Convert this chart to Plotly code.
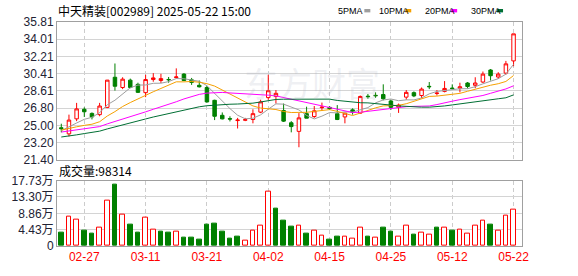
import plotly.graph_objects as go
import pandas as pd

# ---------------- data ----------------
stock_name = "中天精装"
stock_code = "002989"
quote_time = "15:00"

dates = ["2025-02-24", "2025-02-25", "2025-02-26", "2025-02-27", "2025-02-28",
         "2025-03-03", "2025-03-04", "2025-03-05", "2025-03-06", "2025-03-07",
         "2025-03-10", "2025-03-11", "2025-03-12", "2025-03-13", "2025-03-14",
         "2025-03-17", "2025-03-18", "2025-03-19", "2025-03-20", "2025-03-21",
         "2025-03-24", "2025-03-25", "2025-03-26", "2025-03-27", "2025-03-28",
         "2025-03-31", "2025-04-01", "2025-04-02", "2025-04-03", "2025-04-07",
         "2025-04-08", "2025-04-09", "2025-04-10", "2025-04-11", "2025-04-14",
         "2025-04-15", "2025-04-16", "2025-04-17", "2025-04-18", "2025-04-21",
         "2025-04-22", "2025-04-23", "2025-04-24", "2025-04-25", "2025-04-28",
         "2025-04-29", "2025-04-30", "2025-05-06", "2025-05-07", "2025-05-08",
         "2025-05-09", "2025-05-12", "2025-05-13", "2025-05-14", "2025-05-15",
         "2025-05-16", "2025-05-19", "2025-05-20", "2025-05-21", "2025-05-22"]

opens = [24.75, 24.11, 25.68, 26.68, 26.25, 26.12, 26.88, 30.03, 28.96, 29.73,
         29.29, 28.42, 29.79, 29.69, 29.80, 30.00, 30.36, 29.76, 29.19, 28.96,
         27.62, 26.05, 25.70, 25.50, 25.53, 25.61, 26.38, 27.90, 28.02, 26.55,
         25.27, 24.37, 26.22, 25.92, 26.85, 26.88, 26.22, 25.88, 26.62, 26.28,
         28.05, 28.14, 28.22, 27.55, 26.88, 27.95, 28.42, 28.12, 29.08, 28.33,
         28.55, 28.90, 28.89, 29.43, 29.19, 29.53, 30.79, 30.06, 30.46, 31.74]
highs = [25.17, 26.12, 27.35, 26.88, 26.35, 27.35, 29.75, 31.47, 30.03, 29.89,
         29.46, 30.29, 30.46, 30.39, 30.06, 30.96, 30.46, 29.96, 29.69, 29.13,
         27.68, 26.35, 25.95, 25.78, 25.78, 26.68, 27.68, 30.29, 28.69, 27.28,
         25.44, 26.28, 26.95, 27.02, 27.38, 27.00, 27.12, 26.30, 26.78, 28.12,
         28.28, 28.45, 29.29, 27.68, 27.28, 28.69, 28.55, 28.96, 29.53, 28.69,
         29.63, 29.29, 29.46, 29.53, 30.03, 30.63, 30.89, 30.56, 31.74, 34.57]
lows = [24.27, 23.84, 25.44, 25.88, 25.62, 25.95, 26.80, 28.63, 28.79, 28.89,
        28.38, 27.95, 29.56, 29.43, 29.46, 29.89, 29.63, 29.23, 28.96, 27.38,
        25.55, 25.62, 25.41, 24.67, 25.44, 25.21, 26.28, 27.68, 27.28, 25.35,
        24.27, 22.71, 25.75, 25.78, 26.55, 26.60, 25.55, 25.21, 26.12, 26.22,
        27.78, 27.88, 27.62, 26.62, 26.30, 27.68, 27.95, 27.85, 28.79, 28.12,
        28.45, 28.76, 28.45, 28.86, 28.89, 29.43, 29.69, 29.86, 30.29, 31.19]
closes = [24.65, 25.55, 26.72, 26.42, 25.88, 27.02, 29.73, 29.09, 29.83, 28.96,
          28.45, 29.79, 29.96, 29.89, 29.77, 30.06, 29.69, 29.49, 29.03, 27.45,
          25.95, 25.68, 25.66, 25.55, 25.60, 26.22, 27.45, 28.62, 28.35, 25.44,
          24.87, 25.78, 25.75, 26.52, 26.90, 26.75, 25.61, 26.28, 26.38, 28.02,
          28.00, 28.10, 27.78, 26.88, 27.12, 28.45, 28.08, 28.79, 29.04, 28.37,
          28.86, 28.84, 29.03, 29.06, 29.43, 30.36, 30.19, 30.36, 31.43, 34.57]
volumes = [36500, 80000, 72000, 42000, 34000, 51000, 122000, 166000, 85000, 57000,
           36500, 77000, 43500, 39000, 36500, 38000, 23500, 23500, 18000, 57000,
           60000, 39000, 21000, 26000, 15000, 41000, 56500, 148000, 102000, 68000,
           52000, 55000, 34000, 41000, 29000, 18000, 26000, 25000, 20000, 51000,
           26000, 22500, 49500, 39000, 25000, 56500, 31000, 36000, 30500, 49500,
           51000, 42000, 43500, 33000, 54000, 69500, 57500, 41000, 82500, 98314]
# estimated closes of the 29 sessions before the window (only feed the moving averages)
prev_closes = [22.9, 22.6, 22.4, 22.5, 22.8, 22.7, 22.5, 22.9, 23.0, 23.1,
               23.4, 23.8, 24.2, 24.5, 24.3, 24.0, 24.3, 24.6, 24.1, 23.8,
               24.2, 24.6, 24.9, 24.7, 24.4, 23.75, 24.5, 24.5, 24.8]

ma_periods = [5, 10, 20, 30]
ma_labels = ["5PMA", "10PMA", "20PMA", "30PMA"]
ma_colors = ["#9e9e9e", "#f5a000", "#ff00ff", "#006f34"]

price_min, price_max = 21.40, 35.81
price_tick_labels = ["21.40", "23.20", "25.00", "26.80", "28.61", "30.41", "32.21", "34.01", "35.81"]
vol_axis_max = 177300
vol_tick_labels = ["0", "4.43万", "8.86万", "13.30万", "17.73万"]
date_tick_labels = ["02-27", "03-11", "03-21", "04-02", "04-15", "04-25", "05-12", "05-22"]

# ---------------- styling / geometry ----------------
UP = "#ff0000"
DOWN = "#008000"
FRAME = "#a0a0a0"
GRID = "#d4d4d4"
W, H = 578, 276
ML, MR, MT, MB = 56, 56, 22, 21
PW, PH = W - ML - MR, H - MT - MB


def pxx(p):
    return (p - ML) / PW


def pxy(p):
    return (H - MB - p) / PH


n = len(dates)
idx = list(range(n))
all_close = pd.Series(prev_closes + closes)
ma_values = [all_close.rolling(p).mean().iloc[len(prev_closes):].tolist() for p in ma_periods]

prev_for_vol = [prev_closes[-1]] + closes[:-1]
vol_up = [c >= pc for c, pc in zip(closes, prev_for_vol)]
vol_fill = ["#ffffff" if u else DOWN for u in vol_up]
vol_edge = [UP if u else DOWN for u in vol_up]

tick_idx = [i for i, d in enumerate(dates) if d[5:] in date_tick_labels]
tick_txt = [dates[i][5:] for i in tick_idx]

n_pt = len(price_tick_labels)
price_tickvals = [price_min + k * (price_max - price_min) / (n_pt - 1) for k in range(n_pt)]
n_vt = len(vol_tick_labels)
vol_tickvals = [k * vol_axis_max / (n_vt - 1) for k in range(n_vt)]

fig = go.Figure()

fig.add_trace(go.Candlestick(
    x=idx, open=opens, high=highs, low=lows, close=closes,
    increasing=dict(line=dict(color=UP, width=1), fillcolor="#ffffff"),
    decreasing=dict(line=dict(color=DOWN, width=1), fillcolor=DOWN),
    whiskerwidth=0, hoverinfo="skip", xaxis="x", yaxis="y"))

for vals, col in zip(ma_values, ma_colors):
    fig.add_trace(go.Scatter(x=idx, y=vals, mode="lines",
                             line=dict(color=col, width=1), hoverinfo="skip",
                             xaxis="x", yaxis="y"))

fig.add_trace(go.Bar(x=idx, y=volumes, width=0.6,
                     marker=dict(color=vol_fill, line=dict(color=vol_edge, width=1)),
                     hoverinfo="skip", xaxis="x2", yaxis="y2"))

xr = [-0.56, n - 1 + 1.1]
axis_common = dict(showline=True, mirror=True, linecolor=FRAME, linewidth=1,
                   zeroline=False, ticks="", fixedrange=True)

fig.update_layout(
    width=W, height=H, margin=dict(l=ML, r=MR, t=MT, b=MB),
    paper_bgcolor="#ffffff", plot_bgcolor="#ffffff", showlegend=False,
    boxgap=0.35, bargap=0,
    xaxis=dict(domain=[0, 1], range=xr, anchor="y", tickvals=tick_idx, ticktext=tick_txt,
               showticklabels=False, showgrid=True, gridcolor="#cccccc", griddash="4px,3px",
               rangeslider=dict(visible=False), **axis_common),
    yaxis=dict(domain=[pxy(165.3), 1], range=[price_min, price_max], tickvals=price_tickvals,
               ticktext=price_tick_labels, showgrid=True, gridcolor=GRID,
               tickfont=dict(family="Arial, Liberation Sans", size=12, color="#222233"),
               **axis_common),
    xaxis2=dict(domain=[0, 1], range=xr, anchor="y2", tickvals=tick_idx, ticktext=tick_txt,
                showgrid=True, gridcolor="#cccccc", griddash="4px,3px",
                tickfont=dict(family="Arial, Liberation Sans", size=12, color="#ff0000"),
                **axis_common),
    yaxis2=dict(domain=[0, pxy(187)], range=[0, vol_axis_max], tickvals=vol_tickvals,
                ticktext=vol_tick_labels, showgrid=True, gridcolor=GRID,
                tickfont=dict(family="Arial, Liberation Sans, Noto Sans CJK SC", size=12, color="#222233"),
                **axis_common),
)

annotations = [
    dict(text=f"{stock_name}[{stock_code}] {dates[-1]} {quote_time}", x=pxx(55), y=pxy(10.5),
         xref="paper", yref="paper", xanchor="left", yanchor="middle", showarrow=False,
         font=dict(family="SimSun, Noto Sans CJK SC", size=12, color="#000000")),
    dict(text=f"成交量:{volumes[-1]}", x=pxx(56), y=pxy(176.5),
         xref="paper", yref="paper", xanchor="left", yanchor="middle", showarrow=False,
         font=dict(family="SimSun, Noto Sans CJK SC", size=12, color="#000000")),
    dict(text="东方财富", x=pxx(312), y=pxy(85), xref="paper", yref="paper",
         xanchor="center", yanchor="middle", showarrow=False,
         font=dict(family="Noto Sans CJK SC", size=34, color="rgba(170,175,195,0.2)")),
]
legend_text_x = [336, 377, 423, 469]
shapes = []
for lab, col, lx in zip(ma_labels, ma_colors, legend_text_x):
    annotations.append(dict(text=lab, x=pxx(lx), y=pxy(10.5), xref="paper", yref="paper",
                            xanchor="left", yanchor="middle", showarrow=False,
                            font=dict(family="Arial, Liberation Sans", size=9, color="#000000")))
    shapes.append(dict(type="rect", xref="paper", yref="paper",
                       x0=pxx(lx + 28), x1=pxx(lx + 34), y0=pxy(12), y1=pxy(8.5),
                       fillcolor=col, line=dict(width=0)))

fig.update_layout(annotations=annotations, shapes=shapes)

fig.write_html("out.html")
